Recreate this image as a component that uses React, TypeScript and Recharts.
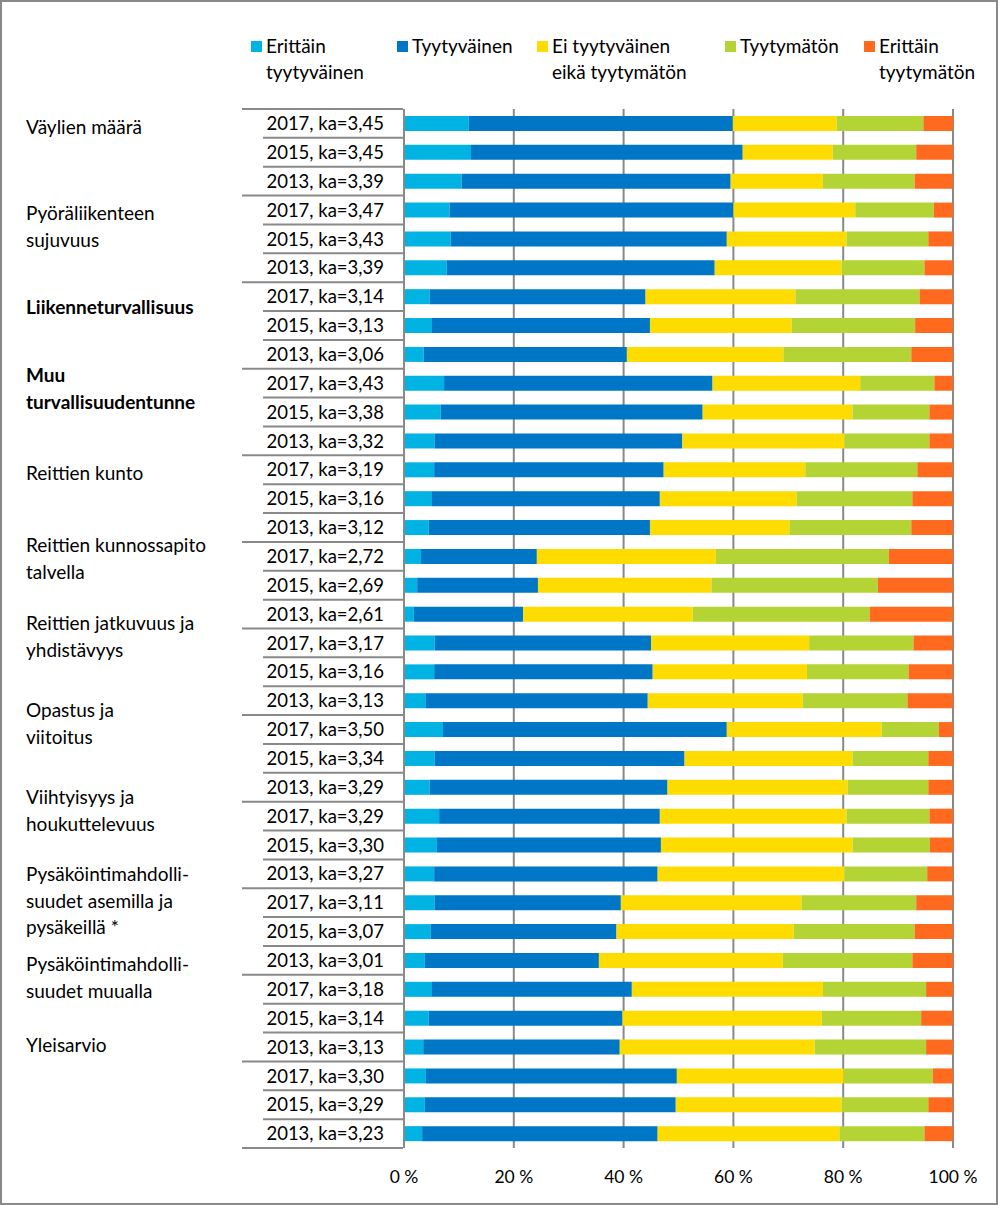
import { BarChart, Bar, XAxis, YAxis, CartesianGrid } from 'recharts';

const SERIES = [
  'Erittäin tyytyväinen',
  'Tyytyväinen',
  'Ei tyytyväinen eikä tyytymätön',
  'Tyytymätön',
  'Erittäin tyytymätön',
];

const LEGEND_LINES = [
  ['Erittäin', 'tyytyväinen'],
  ['Tyytyväinen'],
  ['Ei tyytyväinen', 'eikä tyytymätön'],
  ['Tyytymätön'],
  ['Erittäin', 'tyytymätön'],
];

const COLORS = ['#00B3E3', '#0076C6', '#FFDC00', '#B4D335', '#FF6A1E'];

const GROUPS = [
  ['Väylien määrä'],
  ['Pyöräliikenteen', 'sujuvuus'],
  ['Liikenneturvallisuus'],
  ['Muu', 'turvallisuudentunne'],
  ['Reittien kunto'],
  ['Reittien kunnossapito', 'talvella'],
  ['Reittien jatkuvuus ja', 'yhdistävyys'],
  ['Opastus ja', 'viitoitus'],
  ['Viihtyisyys ja', 'houkuttelevuus'],
  ['Pysäköintimahdolli-', 'suudet asemilla ja', 'pysäkeillä *'],
  ['Pysäköintimahdolli-', 'suudet muualla'],
  ['Yleisarvio'],
];
const BOLD_GROUPS = [2, 3];

const ROW_LABELS = [
  '2017, ka=3,45', '2015, ka=3,45', '2013, ka=3,39',
  '2017, ka=3,47', '2015, ka=3,43', '2013, ka=3,39',
  '2017, ka=3,14', '2015, ka=3,13', '2013, ka=3,06',
  '2017, ka=3,43', '2015, ka=3,38', '2013, ka=3,32',
  '2017, ka=3,19', '2015, ka=3,16', '2013, ka=3,12',
  '2017, ka=2,72', '2015, ka=2,69', '2013, ka=2,61',
  '2017, ka=3,17', '2015, ka=3,16', '2013, ka=3,13',
  '2017, ka=3,50', '2015, ka=3,34', '2013, ka=3,29',
  '2017, ka=3,29', '2015, ka=3,30', '2013, ka=3,27',
  '2017, ka=3,11', '2015, ka=3,07', '2013, ka=3,01',
  '2017, ka=3,18', '2015, ka=3,14', '2013, ka=3,13',
  '2017, ka=3,30', '2015, ka=3,29', '2013, ka=3,23',
];

// percentages per row, same order as ROW_LABELS
const VERY_SATISFIED = [
  11.8, 12.2, 10.5, 8.3, 8.5, 7.8, 4.7, 5.1, 3.6, 7.3, 6.7, 5.6,
  5.5, 5.1, 4.5, 3.1, 2.4, 1.8, 5.6, 5.5, 4.0, 7.1, 5.6, 4.7,
  6.4, 6.0, 5.5, 5.6, 4.9, 3.8, 5.1, 4.5, 3.5, 4.0, 3.8, 3.3,
];
const SATISFIED = [
  48.1, 49.5, 49.0, 51.7, 50.3, 48.8, 39.3, 39.7, 37.0, 48.9, 47.7, 45.1,
  41.8, 41.5, 40.3, 21.1, 22.0, 19.9, 39.4, 39.8, 40.4, 51.7, 45.5, 43.3,
  40.2, 40.8, 40.7, 33.9, 33.8, 31.7, 36.4, 35.3, 35.8, 45.7, 45.7, 42.9,
];
const NEUTRAL = [
  18.9, 16.4, 16.8, 22.2, 21.8, 23.1, 27.3, 25.8, 28.5, 26.9, 27.3, 29.5,
  25.8, 24.9, 25.4, 32.6, 31.6, 30.9, 28.8, 28.1, 28.2, 28.2, 30.6, 32.8,
  34.0, 34.9, 34.0, 32.9, 32.3, 33.5, 34.8, 36.3, 35.5, 30.4, 30.2, 33.1,
];
const DISSATISFIED = [
  15.8, 15.2, 16.7, 14.3, 14.9, 15.1, 22.6, 22.5, 23.3, 13.5, 14.0, 15.5,
  20.4, 21.1, 22.2, 31.5, 30.3, 32.2, 19.0, 18.5, 19.1, 10.4, 13.8, 14.7,
  15.1, 14.1, 15.1, 20.9, 22.0, 23.6, 18.8, 18.1, 20.3, 16.2, 15.8, 15.5,
];
const VERY_DISSATISFIED = [
  5.4, 6.7, 7.0, 3.5, 4.5, 5.2, 6.1, 6.9, 7.6, 3.4, 4.3, 4.3,
  6.5, 7.4, 7.6, 11.7, 13.7, 15.2, 7.2, 8.1, 8.3, 2.6, 4.5, 4.5,
  4.3, 4.2, 4.7, 6.7, 7.0, 7.4, 4.9, 5.8, 4.9, 3.7, 4.5, 5.2,
];

const X_TICKS = [0, 0.2, 0.4, 0.6, 0.8, 1];

const KEYS = ['s0', 's1', 's2', 's3', 's4'];
const data = ROW_LABELS.map((label, i) => ({
  row: i,
  label,
  s0: VERY_SATISFIED[i],
  s1: SATISFIED[i],
  s2: NEUTRAL[i],
  s3: DISSATISFIED[i],
  s4: VERY_DISSATISFIED[i],
}));

// layout
const W = 998;
const H = 1205;
const PLOT_LEFT = 404;
const PLOT_TOP = 109;
const PLOT_BOTTOM = 1148;
const BAND = (PLOT_BOTTOM - PLOT_TOP) / ROW_LABELS.length;
const GRID = '#898989';
const FONT = 'Lato, "Open Sans", sans-serif';
const GROUP_Y = [127, 213, 307, 375, 473, 545, 623, 710, 797, 874, 964, 1045];
const LEGEND_X = [251, 397, 537, 725, 864];

function RowTick(props: any) {
  const { y, payload } = props;
  const i = Number(payload.value);
  const half = BAND / 2;
  const groupEnd = (i + 1) % 3 === 0;
  return (
    <g>
      {i === 0 && (
        <line x1={242} x2={PLOT_LEFT - 1} y1={y - half} y2={y - half} stroke={GRID} strokeWidth={2} />
      )}
      <line
        x1={groupEnd ? 242 : 263}
        x2={PLOT_LEFT - 1}
        y1={y + half}
        y2={y + half}
        stroke={GRID}
        strokeWidth={2}
      />
      <text x={384} y={y} dy="0.36em" textAnchor="end" fontSize={18.5} fill="#000">
        {ROW_LABELS[i]}
      </text>
    </g>
  );
}

function PctTick(props: any) {
  const { x, payload } = props;
  return (
    <text x={x} y={PLOT_BOTTOM + 29} dy="0.36em" textAnchor="middle" fontSize={17.5} fill="#000">
      {`${Math.round(payload.value * 100)} %`}
    </text>
  );
}

export default function App() {
  return (
    <div style={{ position: 'relative', width: W, height: H, fontFamily: FONT, background: '#fff' }}>
      <style>{'body{margin:0}'}</style>
      <BarChart
        width={W}
        height={H}
        data={data}
        layout="vertical"
        stackOffset="expand"
        barSize={15}
        margin={{ top: PLOT_TOP, right: W - 953, bottom: 27, left: 0 }}
      >
        <CartesianGrid horizontal={false} stroke={GRID} strokeWidth={2} verticalValues={X_TICKS} />
        <XAxis
          type="number"
          domain={[0, 1]}
          ticks={X_TICKS}
          axisLine={false}
          tickLine={false}
          height={30}
          tick={<PctTick />}
        />
        <YAxis
          type="category"
          dataKey="row"
          width={PLOT_LEFT}
          interval={0}
          axisLine={{ stroke: GRID, strokeWidth: 2 }}
          tickLine={false}
          tick={<RowTick />}
        />
        {KEYS.map((k, i) => (
          <Bar key={k} dataKey={k} name={SERIES[i]} stackId="a" fill={COLORS[i]} isAnimationActive={false} />
        ))}
      </BarChart>

      {/* legend */}
      {LEGEND_LINES.map((lines, i) => (
        <div key={i} style={{ position: 'absolute', left: LEGEND_X[i], top: 33, display: 'flex', gap: 4 }}>
          <div style={{ width: 11, height: 11, background: COLORS[i], marginTop: 8 }} />
          <div style={{ fontSize: 19, lineHeight: '26px', color: '#000' }}>
            {lines.map((l) => (
              <div key={l}>{l}</div>
            ))}
          </div>
        </div>
      ))}

      {/* group labels */}
      {GROUPS.map((lines, g) => (
        <div
          key={g}
          style={{
            position: 'absolute',
            left: 26,
            top: GROUP_Y[g] - 13,
            fontSize: 19,
            lineHeight: '26.5px',
            fontWeight: BOLD_GROUPS.includes(g) ? 700 : 400,
            color: '#000',
            whiteSpace: 'nowrap',
          }}
        >
          {lines.map((l, k) => (
            <div key={k}>{l}</div>
          ))}
        </div>
      ))}

      <div
        style={{
          position: 'absolute',
          inset: 0,
          border: `2px solid ${GRID}`,
          pointerEvents: 'none',
        }}
      />
    </div>
  );
}
